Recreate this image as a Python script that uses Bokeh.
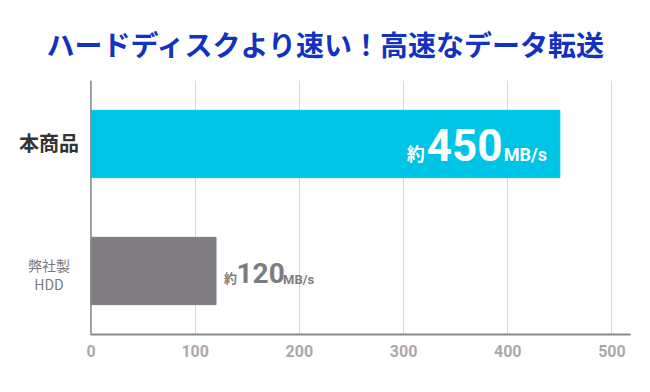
from bokeh.plotting import figure
from bokeh.models import ColumnDataSource, FixedTicker, Range1d, FactorRange, Span
from bokeh.core.properties import value
from bokeh.embed import file_html
from bokeh.resources import INLINE

title_text = "ハードディスクより速い！高速なデータ転送"
categories = ["弊社製\nHDD", "本商品"]
speeds = [120, 450]
bar_colors = ["#807d82", "#00c4e6"]
x_ticks = [0, 100, 200, 300, 400, 500]
x_max = 517.8
prefix = "約"
unit = "MB/s"

NUM = "Roboto"
CJK = "Noto Sans CJK JP"

# the frame reaches the left edge so that category labels (left of 0) are not clipped
p = figure(width=650, height=392, output_backend="svg", toolbar_location=None,
           y_range=FactorRange(*categories, range_padding=0),
           x_range=Range1d(-86.85, x_max),
           min_border_left=0, min_border_right=20, min_border_top=80, min_border_bottom=58,
           title=title_text)
p.outline_line_color = None
p.background_fill_color = "white"

p.title.align = "left"
p.title.offset = 46
p.title.text_font = CJK
p.title.text_font_style = "bold"
p.title.text_font_size = "28px"
p.title.text_color = "#1232c0"
p.title.standoff = 33

src = ColumnDataSource(dict(y=categories, right=speeds, color=bar_colors))
p.hbar(y="y", left=0, right="right", height=0.53, color="color", source=src)

# axes
p.xaxis.ticker = FixedTicker(ticks=x_ticks)
p.xaxis.bounds = (0, x_max)
p.xaxis.axis_line_color = "#8c888c"
p.xaxis.axis_line_width = 2
p.xaxis.major_tick_line_color = None
p.xaxis.minor_tick_line_color = None
p.xaxis.major_label_text_font = NUM
p.xaxis.major_label_text_font_style = "bold"
p.xaxis.major_label_text_font_size = "16px"
p.xaxis.major_label_text_color = "#aba7ad"
p.xaxis.major_label_standoff = 4

p.yaxis.visible = False
p.add_layout(Span(location=0, dimension="height", line_color="#8c888c", line_width=1.5))

p.xgrid.ticker = FixedTicker(ticks=x_ticks)
p.xgrid.grid_line_color = "#d8d5d9"
p.xgrid.grid_line_width = 1
p.ygrid.grid_line_color = None

# category labels
p.text(x=[0], y=[categories[1]], text=[categories[1]], x_offset=-42, y_offset=-2,
       text_align="center", text_baseline="middle", text_font=value(CJK),
       text_font_style="bold", text_font_size="20px", text_color="#333333")
p.text(x=[0], y=[categories[0]], text=[categories[0]], x_offset=-42, y_offset=3,
       text_align="center", text_baseline="middle", text_font=value(CJK),
       text_font_size="14px", text_color="#7a777b", text_line_height=0.95)

# value label: main product (inside bar)
v1 = speeds[1]
c1 = categories[1]
p.text(x=[v1], y=[c1], text=[prefix], x_offset=-153, y_offset=9, text_align="left",
       text_baseline="alphabetic", text_font=value(CJK), text_font_style="bold",
       text_font_size="18px", text_color="white")
p.text(x=[v1], y=[c1], text=[str(v1)], x_offset=-133, y_offset=1, text_align="left",
       text_baseline="alphabetic", text_font=value(NUM), text_font_style="bold",
       text_font_size="44px", text_color="white")
p.text(x=[v1], y=[c1], text=[unit], x_offset=-56, y_offset=10, text_align="left",
       text_baseline="alphabetic", text_font=value(NUM), text_font_style="bold",
       text_font_size="18px", text_color="white")

# value label: HDD (outside bar)
v0 = speeds[0]
c0 = categories[0]
p.text(x=[v0], y=[c0], text=[prefix], x_offset=8, y_offset=6.5, text_align="left",
       text_baseline="alphabetic", text_font=value(CJK), text_font_style="bold",
       text_font_size="13px", text_color="#7f7c80")
p.text(x=[v0], y=[c0], text=[str(v0)], x_offset=20.5, y_offset=2, text_align="left",
       text_baseline="alphabetic", text_font=value(NUM), text_font_style="bold",
       text_font_size="28px", text_color="#7f7c80")
p.text(x=[v0], y=[c0], text=[unit], x_offset=67, y_offset=8, text_align="left",
       text_baseline="alphabetic", text_font=value(NUM), text_font_style="bold",
       text_font_size="13px", text_color="#7f7c80")

open("out.html", "w").write(file_html(p, INLINE))
